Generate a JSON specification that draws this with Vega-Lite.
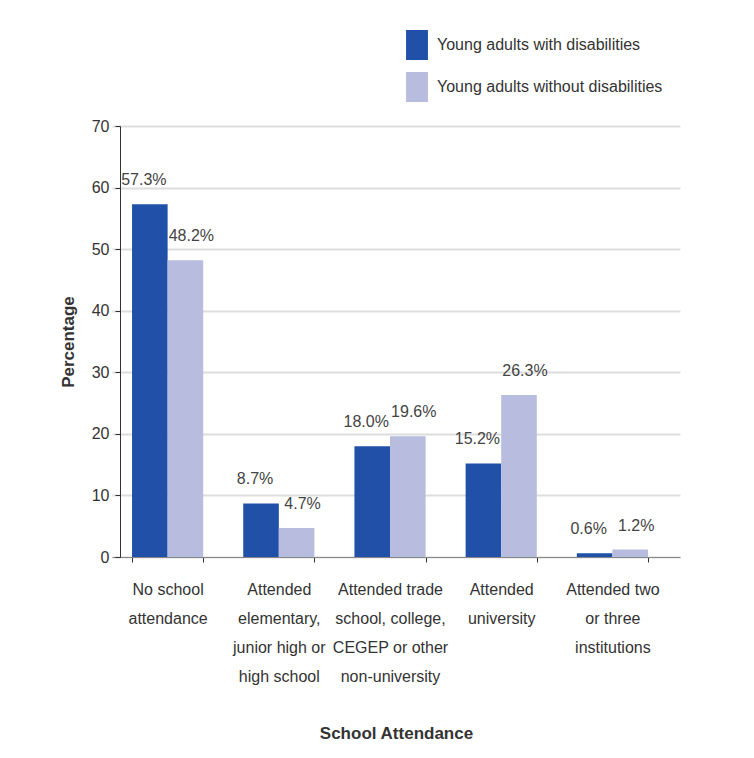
{
  "$schema": "https://vega.github.io/schema/vega-lite/v6.json",
  "autosize": {"type": "none"},
  "padding": {"left": 112, "top": 126, "right": 74, "bottom": 201},
  "width": 568,
  "height": 431,
  "background": "white",
  "config": {
    "font": "Liberation Sans",
    "view": {"stroke": null}
  },
  "data": {
    "values": [
      {"category": "No school attendance", "group": "Young adults with disabilities", "value": 57.3, "label": "57.3%"},
      {"category": "No school attendance", "group": "Young adults without disabilities", "value": 48.2, "label": "48.2%"},
      {"category": "Attended elementary, junior high or high school", "group": "Young adults with disabilities", "value": 8.7, "label": "8.7%"},
      {"category": "Attended elementary, junior high or high school", "group": "Young adults without disabilities", "value": 4.7, "label": "4.7%"},
      {"category": "Attended trade school, college, CEGEP or other non-university", "group": "Young adults with disabilities", "value": 18.0, "label": "18.0%"},
      {"category": "Attended trade school, college, CEGEP or other non-university", "group": "Young adults without disabilities", "value": 19.6, "label": "19.6%"},
      {"category": "Attended university", "group": "Young adults with disabilities", "value": 15.2, "label": "15.2%"},
      {"category": "Attended university", "group": "Young adults without disabilities", "value": 26.3, "label": "26.3%"},
      {"category": "Attended two or three institutions", "group": "Young adults with disabilities", "value": 0.6, "label": "0.6%"},
      {"category": "Attended two or three institutions", "group": "Young adults without disabilities", "value": 1.2, "label": "1.2%"}
    ]
  },
  "encoding": {
    "x": {
      "field": "category",
      "type": "nominal",
      "sort": null,
      "scale": {"paddingInner": 0.36, "paddingOuter": 0.234, "align": 0.385},
      "axis": {
        "title": "School Attendance",
        "titleFont": "Liberation Sans",
        "titleFontSize": 17,
        "titleFontWeight": "bold",
        "titleColor": "#333333",
        "titlePadding": 41,
        "labelAngle": 0,
        "labelFontSize": 16,
        "labelColor": "#333333",
        "labelLineHeight": 29,
        "labelPadding": 19,
        "labelExpr": "({'No school attendance': ['No school','attendance'], 'Attended elementary, junior high or high school': ['Attended','elementary,','junior high or','high school'], 'Attended trade school, college, CEGEP or other non-university': ['Attended trade','school, college,','CEGEP or other','non-university'], 'Attended university': ['Attended','university'], 'Attended two or three institutions': ['Attended two','or three','institutions']})[datum.label]",
        "tickBand": "extent",
        "tickColor": "#333333",
        "tickSize": 5,
        "domainColor": "#888888",
        "grid": false
      }
    },
    "y": {
      "field": "value",
      "type": "quantitative",
      "scale": {"domain": [0, 70]},
      "axis": {
        "title": "Percentage",
        "titleFontSize": 17,
        "titleFontWeight": "bold",
        "titleColor": "#333333",
        "titlePadding": 14,
        "values": [0, 10, 20, 30, 40, 50, 60, 70],
        "labelFontSize": 16,
        "labelColor": "#333333",
        "labelPadding": 6,
        "tickColor": "#333333",
        "tickSize": 5,
        "domainColor": "#333333",
        "gridColor": "#dddddd",
        "gridWidth": 2,
        "offset": -8
      }
    },
    "xOffset": {"field": "group", "type": "nominal", "scale": {"paddingInner": 0, "paddingOuter": 0}}
  },
  "layer": [
    {
      "mark": {"type": "bar"},
      "encoding": {
        "color": {
          "field": "group",
          "type": "nominal",
          "scale": {"range": ["#2150a8", "#b8bde0"]},
          "legend": {
            "title": null,
            "orient": "none",
            "legendX": 290,
            "legendY": -96,
            "padding": 0,
            "symbolType": "M-0.73,-1H0.73V1H-0.73Z",
            "symbolSize": 900,
            "symbolStrokeWidth": 0,
            "symbolOpacity": 1,
            "labelFontSize": 16,
            "labelColor": "#333333",
            "labelOffset": 5,
            "rowPadding": 12,
            "labelLimit": 400
          }
        }
      }
    },
    {
      "transform": [{"filter": "datum.group === 'Young adults with disabilities'"}],
      "mark": {"type": "text", "baseline": "bottom", "dy": -16, "dx": -6, "fontSize": 16, "color": "#444444"},
      "encoding": {"text": {"field": "label"}}
    },
    {
      "transform": [{"filter": "datum.group === 'Young adults without disabilities'"}],
      "mark": {"type": "text", "baseline": "bottom", "dy": -16, "dx": 6, "fontSize": 16, "color": "#444444"},
      "encoding": {"text": {"field": "label"}}
    }
  ]
}
